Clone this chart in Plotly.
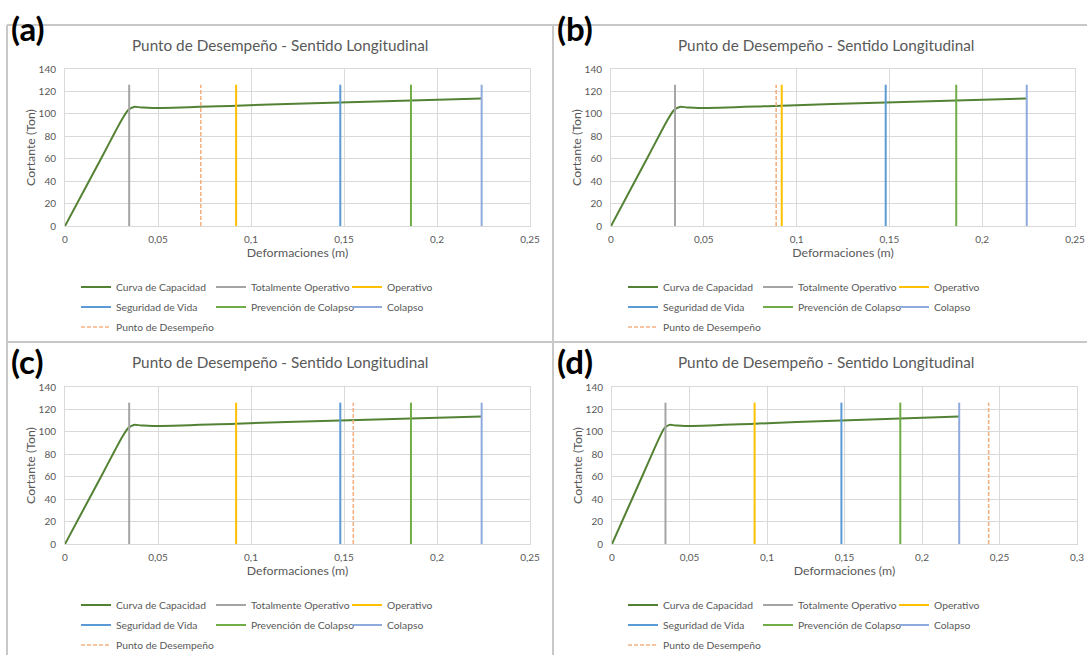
import plotly.graph_objects as go

W, H = 1087, 655

# ---------------- data ----------------
panel_labels = ["(a)", "(b)", "(c)", "(d)"]
chart_title = "Punto de Desempeño - Sentido Longitudinal"
x_title = "Deformaciones (m)"
y_title = "Cortante (Ton)"

curve_name = "Curva de Capacidad"
cap_x = [0, 0.010, 0.020, 0.027, 0.031, 0.034, 0.037, 0.041, 0.047, 0.092, 0.148, 0.186, 0.224]
cap_y = [0, 31, 62, 84, 96, 103.5, 106.2, 105.7, 105.2, 107.3, 110.2, 112.0, 113.8]

level_names = ["Totalmente Operativo", "Operativo", "Seguridad de Vida",
               "Prevención de Colapso", "Colapso"]
level_x = [0.0345, 0.092, 0.148, 0.186, 0.224]
level_top = 126

punto_name = "Punto de Desempeño"
punto_x = [0.073, 0.089, 0.155, 0.243]

x_max = [0.25, 0.25, 0.25, 0.30]
y_ticks = [0, 20, 40, 60, 80, 100, 120, 140]
x_tick_vals = [0, 0.05, 0.1, 0.15, 0.2, 0.25, 0.3]
x_tick_text = ["0", "0,05", "0,1", "0,15", "0,2", "0,25", "0,3"]

# ---------------- style ----------------
FONT = "Lato"
TXT = "#595959"
GRID = "#D9D9D9"
curve_color = "#548235"
level_colors = ["#A5A5A5", "#FFC000", "#5B9BD5", "#70AD47", "#8FAADC"]
punto_color = "#F4B183"

# plot areas in page pixels: (left, right, top, bottom)
areas = [(65, 530, 69, 226), (611, 1075, 69, 226),
         (65, 530, 387, 544), (612, 1077, 387, 544)]
title_pos = [(280, 45), (826, 45), (280, 362), (826, 362)]
label_pos = [(9, 28), (555, 28), (9, 361), (555, 361)]
leg_cols = [[81, 216, 352], [628, 763, 899], [81, 216, 352], [628, 763, 899]]
leg_rows = [[287, 307, 327], [287, 307, 327], [605, 625, 645], [605, 625, 645]]


def px(x):
    return x / W


def py(y):
    return 1 - y / H


fig = go.Figure()
layout = dict(width=W, height=H, margin=dict(l=0, r=0, t=0, b=0, autoexpand=False),
              paper_bgcolor="white", plot_bgcolor="white", showlegend=True,
              font=dict(family=FONT, color=TXT, size=10))

annotations = []
shapes = []
leg_counter = [0]


def next_legend(x_px, y_px):
    leg_counter[0] += 1
    n = leg_counter[0]
    key = "legend" if n == 1 else f"legend{n}"
    layout[key] = dict(x=px(x_px - 5), y=py(y_px), xanchor="left", yanchor="middle",
                       orientation="h", bgcolor="rgba(0,0,0,0)", borderwidth=0,
                       font=dict(family=FONT, size=10.3, color=TXT),
                       itemwidth=30)
    return key


for i in range(4):
    l, r, t, b = areas[i]
    sfx = "" if i == 0 else str(i + 1)
    xa, ya = "x" + sfx, "y" + sfx
    ticks_here = [v for v in x_tick_vals if v <= x_max[i] + 1e-9]
    text_here = x_tick_text[:len(ticks_here)]
    layout["xaxis" + sfx] = dict(
        domain=[px(l), px(r)], anchor=ya, range=[0, x_max[i]],
        tickvals=ticks_here, ticktext=text_here, showgrid=True, gridcolor=GRID,
        gridwidth=1, showline=True, linecolor=GRID, linewidth=1, mirror=True,
        zeroline=False, ticks="", ticklabelstandoff=4, ticklabeloverflow="allow",
        tickfont=dict(size=10, color=TXT, family=FONT),
        title=dict(text=x_title, font=dict(size=12.3, color=TXT, family=FONT), standoff=3),
        fixedrange=True)
    layout["yaxis" + sfx] = dict(
        domain=[py(b), py(t)], anchor=xa, range=[0, 140], tickvals=y_ticks,
        showgrid=True, gridcolor=GRID, gridwidth=1, showline=True, linecolor=GRID,
        linewidth=1, mirror=True, zeroline=False, ticks="", ticklabelstandoff=6,
        tickfont=dict(size=10, color=TXT, family=FONT),
        title=dict(text=y_title, font=dict(size=12.3, color=TXT, family=FONT), standoff=0),
        fixedrange=True)

    cols, rows = leg_cols[i], leg_rows[i]
    slots = [(cols[0], rows[0]), (cols[1], rows[0]), (cols[2], rows[0]),
             (cols[0], rows[1]), (cols[1], rows[1]), (cols[2], rows[1]),
             (cols[0], rows[2])]

    # capacity curve
    fig.add_trace(go.Scatter(x=cap_x, y=cap_y, mode="lines", name=curve_name,
                             line=dict(color=curve_color, width=2, shape="spline", smoothing=0.9),
                             xaxis=xa, yaxis=ya, legend=next_legend(*slots[0]),
                             showlegend=True, hoverinfo="skip"))
    # performance levels
    for k, (nm, xv, col) in enumerate(zip(level_names, level_x, level_colors)):
        fig.add_trace(go.Scatter(x=[xv, xv], y=[0, level_top], mode="lines", name=nm,
                                 line=dict(color=col, width=2),
                                 xaxis=xa, yaxis=ya, legend=next_legend(*slots[k + 1]),
                                 showlegend=True, hoverinfo="skip"))
    # performance point
    fig.add_trace(go.Scatter(x=[punto_x[i], punto_x[i]], y=[0, level_top], mode="lines",
                             name=punto_name,
                             line=dict(color=punto_color, width=1.6, dash="4px,2px"),
                             xaxis=xa, yaxis=ya, legend=next_legend(*slots[6]),
                             showlegend=True, hoverinfo="skip"))

    tx, ty = title_pos[i]
    annotations.append(dict(text=chart_title, x=px(tx), y=py(ty), xref="paper", yref="paper",
                            xanchor="center", yanchor="middle", showarrow=False,
                            font=dict(family=FONT, size=15.3, color=TXT)))
    lx, ly = label_pos[i]
    annotations.append(dict(text="<b>" + panel_labels[i] + "</b>", x=px(lx), y=py(ly),
                            xref="paper", yref="paper", xanchor="left", yanchor="middle",
                            showarrow=False, font=dict(family=FONT, size=33, color="black")))

# panel frames
frame = dict(type="line", xref="paper", yref="paper",
             line=dict(color="#C8C8C8", width=2), layer="below")
shapes.append({**frame, "x0": px(7), "x1": 1, "y0": py(25), "y1": py(25)})
shapes.append({**frame, "x0": px(7), "x1": 1, "y0": py(342), "y1": py(342)})
shapes.append({**frame, "x0": px(7), "x1": px(7), "y0": py(25), "y1": 0})
shapes.append({**frame, "x0": px(553), "x1": px(553), "y0": py(25), "y1": 0})

layout["annotations"] = annotations
layout["shapes"] = shapes
fig.update_layout(**layout)

fig.write_html("out.html", config={"displayModeBar": False},
               post_script="document.body.style.margin='0';"
                           "document.body.style.overflow='hidden';")
